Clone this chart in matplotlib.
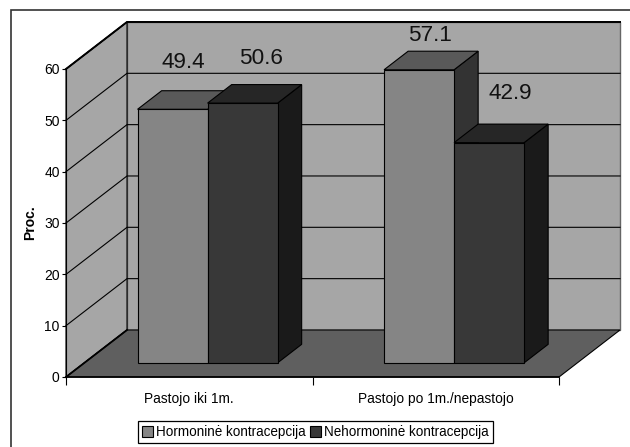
import matplotlib
matplotlib.use("Agg")
import matplotlib.pyplot as plt
from matplotlib.patches import Patch, Polygon, Rectangle

plt.rcParams['font.family'] = ['Liberation Sans', 'DejaVu Sans']

categories = ["Pastojo iki 1m.", "Pastojo po 1m./nepastojo"]
series_names = ["Hormoninė kontracepcija", "Nehormoninė kontracepcija"]
hormonine = [49.4, 57.1]
nehormonine = [50.6, 42.9]
y_ticks = [0, 10, 20, 30, 40, 50, 60]

# oblique projection: how far the back of the box is shifted, in data units
DEPTH_X = 0.2475
DEPTH_Y = 9.16
BAR_WIDTH = 0.284
BAR_FRONT = 0.30   # bars start at this fraction of the depth
BAR_DEPTH = 0.395  # and take this fraction of it

WALL = "#a6a6a6"
FLOOR = "#5f5f5f"
FACES = [("#858585", "#595959", "#333333"),
         ("#383838", "#262626", "#1a1a1a")]
# label offset from the top centre of each front face, in points
LABEL_OFFSETS = [[(8, 34), (13, 32.5)], [(8, 24.5), (15, 35.5)]]


def poly(ax, points, color, zorder=1, edge="black", lw=0.8):
    ax.add_patch(Polygon(points, closed=True, facecolor=color, edgecolor=edge,
                         linewidth=lw, zorder=zorder, clip_on=False))


def draw_bar(ax, left, value, colors, zorder):
    front, top, side = colors
    off_x = DEPTH_X * BAR_FRONT
    off_y = DEPTH_Y * BAR_FRONT
    dx = DEPTH_X * BAR_DEPTH
    dy = DEPTH_Y * BAR_DEPTH
    x0 = left + off_x
    x1 = x0 + BAR_WIDTH
    y0 = off_y
    y1 = off_y + value
    poly(ax, [(x1, y0), (x1 + dx, y0 + dy), (x1 + dx, y1 + dy), (x1, y1)], side, zorder)
    poly(ax, [(x0, y1), (x1, y1), (x1 + dx, y1 + dy), (x0 + dx, y1 + dy)], top, zorder)
    poly(ax, [(x0, y0), (x1, y0), (x1, y1), (x0, y1)], front, zorder)
    return (x0 + x1) / 2, y1


fig = plt.figure(figsize=(6.3, 4.47), dpi=100)
ax = fig.add_axes([66 / 630, (447 - 377) / 447, 493 / 630, 308 / 447])
ax.set_xlim(0, 2)
ax.set_ylim(0, 60)
ax.patch.set_visible(False)

# outer frame, running off the right and bottom of the figure
fig.add_artist(Rectangle((11 / 630, -0.05), 1.1, 1.05 - 10.5 / 447, transform=fig.transFigure,
                         facecolor="none", edgecolor="#333333", linewidth=1.2))

# walls and floor
poly(ax, [(DEPTH_X, DEPTH_Y), (2 + DEPTH_X, DEPTH_Y), (2 + DEPTH_X, 60 + DEPTH_Y),
          (DEPTH_X, 60 + DEPTH_Y)], WALL, 1, edge="#666666", lw=1.0)
poly(ax, [(0, 0), (DEPTH_X, DEPTH_Y), (DEPTH_X, 60 + DEPTH_Y), (0, 60)], WALL, 1)
poly(ax, [(0, 0), (2, 0), (2 + DEPTH_X, DEPTH_Y), (DEPTH_X, DEPTH_Y)], FLOOR, 2)

# grid lines go across the side wall and along the back wall
for tick in y_ticks[1:]:
    ax.plot([0, DEPTH_X, 2 + DEPTH_X], [tick, tick + DEPTH_Y, tick + DEPTH_Y],
            color="black", linewidth=0.8, zorder=3, clip_on=False)
ax.plot([0, DEPTH_X, 2 + DEPTH_X], [60, 60 + DEPTH_Y, 60 + DEPTH_Y],
        color="black", linewidth=1.4, zorder=3, clip_on=False)
ax.plot([0, DEPTH_X], [0, DEPTH_Y], color="black", linewidth=1.3, zorder=3, clip_on=False)

# bars, back to front within each group
for i in range(len(categories)):
    for j, values in enumerate([hormonine, nehormonine]):
        left = i + (1 - 2 * BAR_WIDTH) / 2 + j * BAR_WIDTH
        cx, top = draw_bar(ax, left, values[i], FACES[j], 4 + i + j)
        ax.annotate(f"{values[i]}", (cx, top), xytext=LABEL_OFFSETS[i][j],
                    textcoords="offset points", ha="center", va="center",
                    fontsize=16.2, color="#111111", zorder=10, annotation_clip=False)

for name in ["top", "right"]:
    ax.spines[name].set_visible(False)
ax.spines["left"].set_zorder(6)
ax.spines["bottom"].set_zorder(6)
ax.spines["bottom"].set_linewidth(1.2)

ax.set_yticks(y_ticks)
ax.tick_params(axis="y", labelsize=10, length=3, width=0.8, pad=1.5)
ax.set_xticks([0, 1, 2])
ax.set_xticklabels([])
ax.set_xticks([0.5, 1.5], labels=categories, minor=True)
ax.tick_params(axis="x", which="major", length=6, width=0.8)
ax.tick_params(axis="x", which="minor", length=0, labelsize=9.9, pad=11)
ax.set_ylabel("Proc.", fontsize=10, fontweight="bold", labelpad=5)

handles = [Patch(facecolor=FACES[0][0], edgecolor="black", linewidth=0.8),
           Patch(facecolor=FACES[1][0], edgecolor="black", linewidth=0.8)]
leg = fig.legend(handles, series_names, ncol=2, loc="upper left",
                 bbox_to_anchor=(138 / 630, (447 - 421) / 447), borderaxespad=0,
                 fontsize=9.75, frameon=True, fancybox=False, framealpha=1,
                 edgecolor="black", handlelength=0.8, handleheight=0.8,
                 handletextpad=0.25, columnspacing=0.3, borderpad=0.3)
leg.get_frame().set_linewidth(0.9)

fig.savefig("out.png", dpi=100)
